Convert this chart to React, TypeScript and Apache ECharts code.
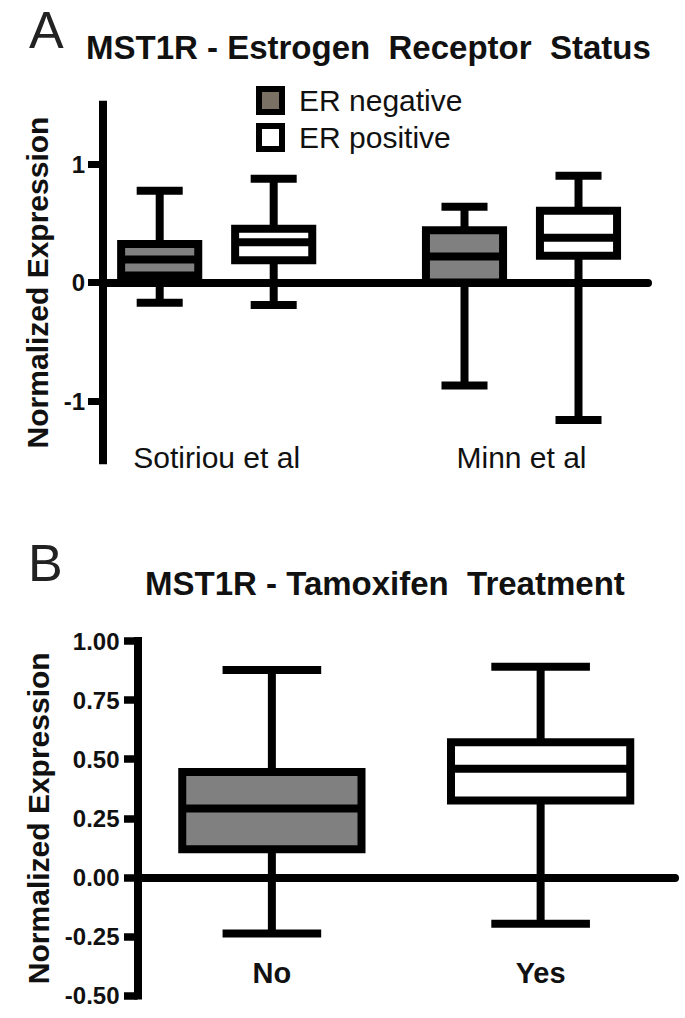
import React, { useEffect, useRef } from 'react';
import * as echarts from 'echarts';

// ---------- Panel A data ----------
const studyGroups = ['Sotiriou et al', 'Minn et al'];
// each box: [min, Q1, median, Q3, max]
const erNegative = [
  [-0.17, 0.06, 0.195, 0.325, 0.775],
  [-0.87, 0.0, 0.22, 0.44, 0.64],
];
const erPositive = [
  [-0.19, 0.187, 0.339, 0.454, 0.876],
  [-1.16, 0.226, 0.378, 0.606, 0.9],
];
const yTicksA = [-1, 0, 1];

// ---------- Panel B data ----------
const tamoxifenGroups = ['No', 'Yes'];
const tamoxifenBoxes = [
  [-0.238, 0.119, 0.291, 0.446, 0.877],
  [-0.196, 0.325, 0.459, 0.572, 0.891],
];

const FONT = '"Liberation Sans", Arial, Helvetica, sans-serif';
const LW = 8;

function boxRenderer(offset: number, boxW: number, capW: number, fills: string[]) {
  return (params: any, api: any) => {
    const xv = api.value(0);
    const unit = api.size([1, 0])[0];
    const cx = api.coord([xv, 0])[0] + offset * unit;
    const y = (i: number) => api.coord([xv, api.value(i)])[1];
    const yMin = y(1), yQ1 = y(2), yMed = y(3), yQ3 = y(4), yMax = y(5);
    const hb = (boxW * unit) / 2;
    const hc = (capW * unit) / 2;
    const ls = { stroke: '#000', lineWidth: LW, fill: null };
    const fill = fills[params.dataIndex % fills.length];
    return {
      type: 'group',
      children: [
        { type: 'line', shape: { x1: cx, y1: yMin, x2: cx, y2: yQ1 }, style: ls },
        { type: 'line', shape: { x1: cx, y1: yQ3, x2: cx, y2: yMax }, style: ls },
        { type: 'line', shape: { x1: cx - hc, y1: yMin, x2: cx + hc, y2: yMin }, style: ls },
        { type: 'line', shape: { x1: cx - hc, y1: yMax, x2: cx + hc, y2: yMax }, style: ls },
        {
          type: 'rect',
          shape: { x: cx - hb, y: yQ3, width: 2 * hb, height: yQ1 - yQ3 },
          style: { fill, stroke: '#000', lineWidth: LW },
        },
        { type: 'line', shape: { x1: cx - hb, y1: yMed, x2: cx + hb, y2: yMed }, style: ls },
      ],
    };
  };
}

export default function App() {
  const ref = useRef<HTMLDivElement>(null);

  useEffect(() => {
    if (!ref.current) return;
    const chart = echarts.init(ref.current, null, { renderer: 'svg' });

    const titleStyle = { fontFamily: FONT, fontSize: 33, fontWeight: 'bold', color: '#111' };
    const letterStyle = { fontFamily: FONT, fontSize: 52, lineHeight: 52, fontWeight: 'normal', color: '#222' };

    const option: any = {
      animation: false,
      textStyle: { fontFamily: FONT, color: '#000' },
      title: [
        { text: 'A', left: 29, top: 4, padding: 0, textStyle: letterStyle },
        { text: 'MST1R - Estrogen  Receptor  Status', left: 86, top: 31, padding: 0, textStyle: titleStyle },
        { text: 'B', left: 28, top: 537, padding: 0, textStyle: letterStyle },
        { text: 'MST1R - Tamoxifen  Treatment', left: 145, top: 567, padding: 0, textStyle: titleStyle },
      ],
      legend: {
        orient: 'vertical',
        left: 256,
        top: 85.5,
        padding: 0,
        itemGap: 7,
        itemWidth: 23,
        itemHeight: 23,
        icon: 'rect',
        selectedMode: false,
        textStyle: { fontFamily: FONT, fontSize: 30, color: '#111', lineHeight: 30, padding: [0, 0, 0, 12] },
        data: [
          { name: 'ER negative', itemStyle: { color: '#7b7064', borderColor: '#000', borderWidth: 6 } },
          { name: 'ER positive', itemStyle: { color: '#ffffff', borderColor: '#000', borderWidth: 6 } },
        ],
      },
      grid: [
        { left: 103, right: 37, top: 104.75, height: 355.5, outerBoundsMode: 'none', containLabel: false },
        { left: 137.5, right: 10, top: 641, height: 354.5, outerBoundsMode: 'none', containLabel: false },
      ],
      xAxis: [
        {
          gridIndex: 0,
          type: 'value',
          min: -0.373,
          max: 1.415,
          splitLine: { show: false },
          axisTick: { show: false },
          axisLine: { show: true, onZero: true, lineStyle: { color: '#000', width: LW } },
          axisLabel: {
            customValues: [0, 1],
            formatter: (v: number) => studyGroups[Math.round(v)] ?? '',
            margin: -18,
            fontSize: 30,
            color: '#111',
            fontFamily: FONT,
          },
        },
        {
          gridIndex: 1,
          type: 'category',
          data: tamoxifenGroups,
          axisTick: { show: false },
          axisLine: { show: true, onZero: true, lineStyle: { color: '#000', width: LW } },
          axisLabel: { margin: -37, fontSize: 29, fontWeight: 'bold', color: '#111', fontFamily: FONT },
        },
      ],
      yAxis: [
        {
          gridIndex: 0,
          type: 'value',
          min: -1.5,
          max: 1.5,
          interval: 0.5,
          splitLine: { show: false },
          name: 'Normalized Expression',
          nameLocation: 'middle',
          nameGap: 48,
          nameTextStyle: { fontSize: 30, fontWeight: 'bold', color: '#111', fontFamily: FONT },
          axisLine: { show: true, onZero: false, lineStyle: { color: '#000', width: LW, cap: 'square' } },
          axisTick: { show: true, customValues: yTicksA, length: 15, lineStyle: { color: '#000', width: 7 } },
          axisLabel: {
            customValues: yTicksA,
            margin: 18,
            fontSize: 24,
            fontWeight: 'bold',
            color: '#111',
            fontFamily: FONT,
          },
        },
        {
          gridIndex: 1,
          type: 'value',
          min: -0.5,
          max: 1,
          interval: 0.25,
          splitLine: { show: false },
          name: 'Normalized Expression',
          nameLocation: 'middle',
          nameGap: 83,
          nameTextStyle: { fontSize: 30, fontWeight: 'bold', color: '#111', fontFamily: FONT },
          axisLine: { show: true, onZero: false, lineStyle: { color: '#000', width: LW, cap: 'square' } },
          axisTick: { show: true, length: 13.5, lineStyle: { color: '#000', width: 7.5 } },
          axisLabel: {
            formatter: (v: number) => v.toFixed(2),
            margin: 18,
            fontSize: 24,
            fontWeight: 'bold',
            color: '#111',
            fontFamily: FONT,
          },
        },
      ],
      series: [
        {
          name: 'ER negative',
          type: 'custom',
          xAxisIndex: 0,
          yAxisIndex: 0,
          itemStyle: { color: '#808080' },
          encode: { x: 0, y: [1, 2, 3, 4, 5] },
          renderItem: boxRenderer(-0.187, 0.253, 0.151, ['#808080']),
          data: erNegative.map((b, i) => [i, ...b]),
        },
        {
          name: 'ER positive',
          type: 'custom',
          xAxisIndex: 0,
          yAxisIndex: 0,
          itemStyle: { color: '#ffffff' },
          encode: { x: 0, y: [1, 2, 3, 4, 5] },
          renderItem: boxRenderer(0.187, 0.253, 0.151, ['#ffffff']),
          data: erPositive.map((b, i) => [i, ...b]),
        },
        {
          name: 'Tamoxifen',
          type: 'custom',
          xAxisIndex: 1,
          yAxisIndex: 1,
          encode: { x: 0, y: [1, 2, 3, 4, 5] },
          renderItem: boxRenderer(0, 0.667, 0.367, ['#808080', '#ffffff']),
          data: tamoxifenBoxes.map((b, i) => [i, ...b]),
        },
      ],
    };

    chart.setOption(option);
    return () => chart.dispose();
  }, []);

  return (
    <div
      ref={ref}
      style={{ position: 'absolute', left: 0, top: 0, width: 685, height: 1018, background: '#fff' }}
    />
  );
}
